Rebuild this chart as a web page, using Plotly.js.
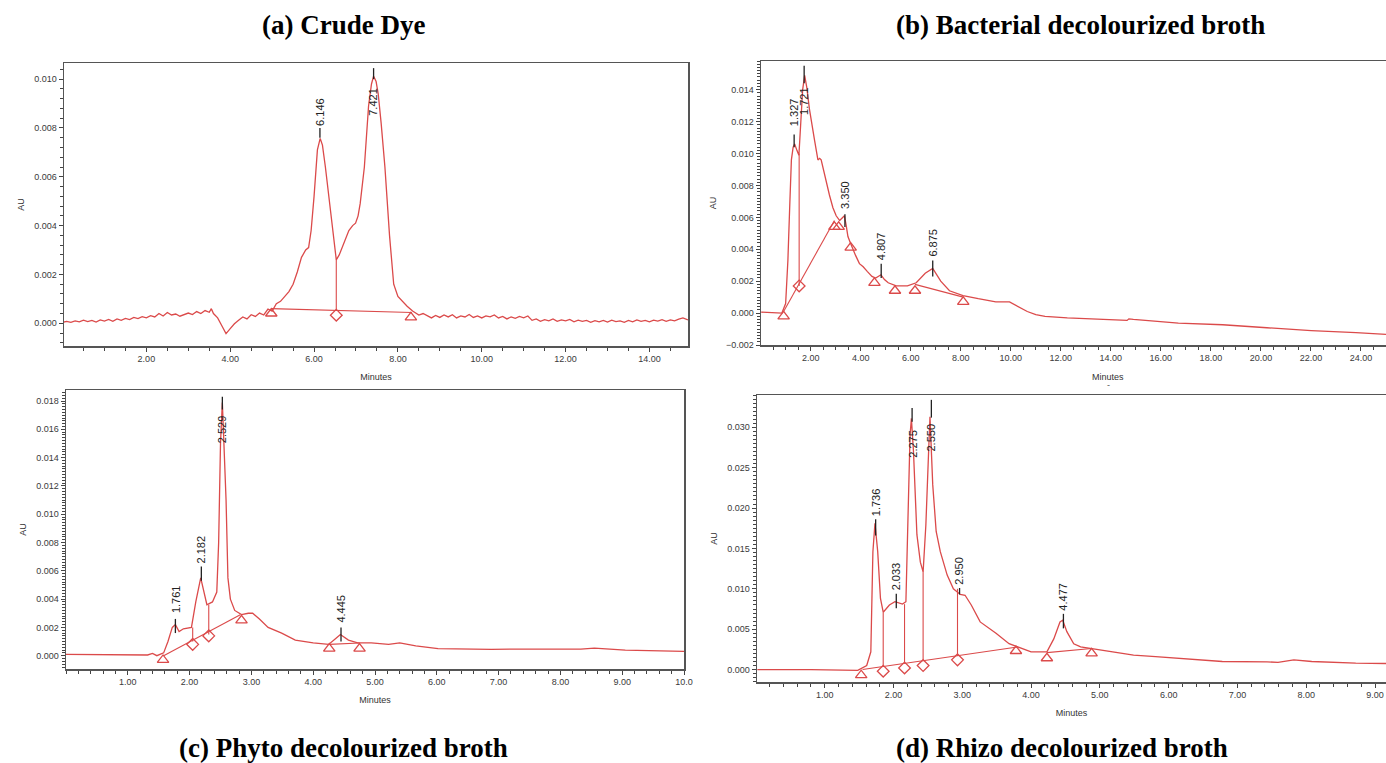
<!DOCTYPE html>
<html>
<head>
<meta charset="utf-8">
<script src="https://cdn.plot.ly/plotly-3.0.1.min.js"></script>
<style>html,body{margin:0;padding:0;background:#fff;}#chart{width:1386px;height:763px;}</style>
</head>
<body>
<div id="chart"></div>
<script>
// ---------- Panel (a) Crude Dye ----------
const A_t = [0.03,0.1,0.2,0.3,0.4,0.5,0.6,0.7,0.8,0.9,1.0,1.1,1.2,1.3,1.4,1.5,1.6,1.7,1.8,1.9,2.0,2.1,2.2,2.3,2.4,2.5,2.6,2.7,2.8,2.9,3.0,3.1,3.2,3.3,3.4,3.5,3.55,3.6,3.7,3.8,3.9,4.0,4.1,4.2,4.3,4.4,4.5,4.6,4.7,4.8,4.9,5.0,5.1,5.2,5.3,5.4,5.5,5.6,5.7,5.8,5.87,5.93,6.0,6.08,6.146,6.2,6.27,6.35,6.46,6.53,6.6,6.67,6.75,6.83,6.92,6.99,7.05,7.1,7.2,7.3,7.37,7.42,7.48,7.53,7.6,7.69,7.8,7.9,8.0,8.1,8.22,8.35,8.44,8.5,8.6,8.7,8.8,8.9,9.0,9.1,9.2,9.3,9.4,9.5,9.6,9.7,9.8,9.9,10.0,10.1,10.2,10.3,10.4,10.5,10.6,10.7,10.8,10.9,11.0,11.1,11.2,11.3,11.4,11.5,11.6,11.7,11.8,11.9,12.0,12.1,12.2,12.3,12.4,12.5,12.6,12.7,12.8,12.9,13.0,13.1,13.2,13.3,13.4,13.5,13.6,13.7,13.8,13.9,14.0,14.1,14.2,14.3,14.4,14.5,14.6,14.7,14.8,14.92];
const A_au = [0.00005,0.00008,0.00004,0.00010,0.00006,0.00013,0.00007,0.00012,0.00005,0.00014,0.00009,0.00016,0.00008,0.00018,0.00012,0.00020,0.00015,0.00024,0.00019,0.00027,0.00022,0.00031,0.00026,0.00040,0.00030,0.00044,0.00034,0.00038,0.00029,0.00035,0.00042,0.00036,0.00048,0.00040,0.00052,0.00045,0.00060,0.00040,0.00022,-0.00010,-0.00042,-0.00022,-0.00002,0.00012,0.00026,0.00018,0.00035,0.00028,0.00042,0.00034,0.00058,0.00050,0.00080,0.00090,0.00110,0.00130,0.00160,0.00210,0.00270,0.00300,0.00310,0.00380,0.00520,0.00710,0.00757,0.00730,0.00640,0.00520,0.00340,0.00260,0.00280,0.00310,0.00350,0.00380,0.00400,0.00410,0.00440,0.00490,0.00640,0.00890,0.00980,0.01012,0.00990,0.00940,0.00820,0.00640,0.00360,0.00160,0.00110,0.00090,0.00070,0.00050,0.00042,0.00034,0.00040,0.00030,0.00022,0.00032,0.00024,0.00034,0.00026,0.00035,0.00022,0.00030,0.00026,0.00036,0.00024,0.00030,0.00022,0.00030,0.00026,0.00034,0.00022,0.00028,0.00018,0.00026,0.00020,0.00028,0.00022,0.00030,0.00012,0.00018,0.00008,0.00015,0.00010,0.00018,0.00008,0.00014,0.00010,0.00016,0.00006,0.00013,0.00008,0.00012,0.00004,0.00011,0.00006,0.00012,0.00005,0.00013,0.00007,0.00010,0.00004,0.00012,0.00006,0.00014,0.00008,0.00012,0.00006,0.00013,0.00009,0.00015,0.00008,0.00014,0.00010,0.00017,0.00022,0.00014];
const A_peakLabel = ["6.146","7.421"];
const A_peakT = [6.14, 7.42];
const A_tickLo = [0.0076, 0.0100];
const A_tickHi = [0.0080, 0.01045];
const A_labelAU = [0.0080, 0.0084];
const A_triT = [4.98, 8.31];
const A_triAU = [0.00040, 0.00024];
const A_diaT = [6.53];
const A_diaAU = [0.00033];
const A_baseT = [[4.98, 8.33]];
const A_baseAU = [[0.00060, 0.00044]];
const A_dropT = [6.53];
const A_dropLo = [0.00052];
const A_dropHi = [0.0026];

// ---------- Panel (b) Bacterial decolourized broth ----------
const B_t = [0.02,0.4,0.7,0.85,1.0,1.09,1.17,1.23,1.3,1.36,1.45,1.53,1.6,1.68,1.76,1.85,1.95,2.05,2.16,2.29,2.36,2.42,2.52,2.62,2.75,2.89,3.02,3.16,3.29,3.35,3.42,3.49,3.59,3.69,3.8,3.95,4.1,4.27,4.45,4.6,4.81,4.95,5.1,5.42,5.87,6.22,6.58,6.88,7.05,7.2,7.55,8.09,8.7,9.4,9.95,10.2,10.45,10.66,11.0,11.37,12.26,13.5,14.65,14.72,14.9,16.7,18.47,20.24,22.01,23.8,25.0];
const B_au = [0.00006,0.00005,0.00002,0.0,0.0006,0.0033,0.0070,0.0096,0.0104,0.0106,0.0102,0.0099,0.0118,0.0140,0.0149,0.0141,0.0128,0.0117,0.0108,0.0096,0.0097,0.0096,0.0089,0.0083,0.0074,0.0066,0.0061,0.0058,0.0060,0.0061,0.0055,0.0048,0.0044,0.0040,0.0036,0.0031,0.0029,0.0026,0.0023,0.0022,0.0024,0.0021,0.0019,0.0017,0.0017,0.0019,0.0025,0.0028,0.0024,0.0020,0.0014,0.0011,0.0009,0.0007,0.0007,0.0005,0.0003,0.0001,-0.0001,-0.0002,-0.0003,-0.0004,-0.00046,-0.00036,-0.0004,-0.00063,-0.00073,-0.00092,-0.0011,-0.00123,-0.00134];
const B_peakLabel = ["1.327","1.721","3.350","4.807","6.875"];
const B_peakT = [1.34, 1.74, 3.37, 4.82, 6.88];
const B_tickLo = [0.0104, 0.0144, 0.0054, 0.0022, 0.0023];
const B_tickHi = [0.0112, 0.0155, 0.0062, 0.0031, 0.0033];
const B_labelAU = [0.0116, 0.0123, 0.0064, 0.0032, 0.0034];
const B_triT = [0.92, 2.95, 3.12, 3.6, 4.55, 5.37, 6.17, 8.1];
const B_triAU = [-0.0002, 0.0054, 0.0054, 0.0041, 0.0019, 0.0014, 0.0014, 0.0007];
const B_diaT = [1.54];
const B_diaAU = [0.0017];
const B_baseT = [[0.92, 2.95], [6.17, 8.1]];
const B_baseAU = [[0.0001, 0.0058], [0.0018, 0.0010]];
const B_dropT = [1.54];
const B_dropLo = [0.0017];
const B_dropHi = [0.0100];

// ---------- Panel (c) Phyto decolourized broth ----------
const C_t = [0.0,0.5,1.0,1.32,1.4,1.47,1.58,1.65,1.72,1.77,1.83,1.9,2.03,2.1,2.18,2.23,2.28,2.37,2.44,2.47,2.5,2.53,2.56,2.59,2.62,2.66,2.73,2.84,2.95,3.02,3.13,3.27,3.49,3.71,4.0,4.25,4.36,4.44,4.57,4.72,4.94,5.22,5.4,5.66,6.02,6.88,7.6,8.33,8.55,9.05,10.0];
const C_au = [0.0001,0.0001,0.00008,0.00005,0.00016,0.0,0.0002,0.0010,0.0020,0.0022,0.0017,0.0019,0.0020,0.0038,0.0055,0.0045,0.0036,0.0038,0.0045,0.0080,0.0150,0.0179,0.0150,0.0110,0.0055,0.0040,0.0032,0.0029,0.0030,0.0030,0.0026,0.0020,0.0016,0.0011,0.0009,0.0008,0.0012,0.0015,0.0011,0.0009,0.0009,0.0008,0.0009,0.0007,0.0005,0.00045,0.00047,0.00047,0.00054,0.0004,0.0003];
const C_peakLabel = ["1.761","2.182","2.529","4.445"];
const C_peakT = [1.77, 2.19, 2.53, 4.45];
const C_tickLo = [0.0016, 0.0053, 0.0174, 0.0010];
const C_tickHi = [0.0026, 0.0063, 0.0183, 0.0020];
const C_labelAU = [0.0029, 0.0064, 0.0149, 0.0022];
const C_triT = [1.57, 2.84, 4.26, 4.75];
const C_triAU = [-0.0003, 0.0025, 0.0005, 0.0005];
const C_diaT = [2.05, 2.31];
const C_diaAU = [0.0008, 0.0014];
const C_baseT = [[1.58, 2.82], [4.26, 4.75]];
const C_baseAU = [[0.0, 0.0029], [0.0008, 0.0009]];
const C_dropT = [2.05, 2.31];
const C_dropLo = [0.0010, 0.0015];
const C_dropHi = [0.0020, 0.0036];
const C_tickVals = [1,2,3,4,5,6,7,8,9,10];
const C_tickText = ["1.00","2.00","3.00","4.00","5.00","6.00","7.00","8.00","9.00","10.0"];

// ---------- Panel (d) Rhizo decolourized broth ----------
const D_t = [0.02,0.8,1.48,1.61,1.67,1.70,1.73,1.77,1.81,1.85,1.94,2.02,2.13,2.18,2.21,2.24,2.26,2.29,2.34,2.39,2.43,2.47,2.51,2.53,2.57,2.62,2.68,2.78,2.87,2.97,3.04,3.13,3.26,3.49,3.68,3.81,4.0,4.23,4.33,4.42,4.46,4.52,4.62,4.72,4.88,5.17,5.49,5.81,6.14,6.46,6.78,7.43,7.59,7.82,8.08,8.72,9.16];
const D_au = [0.0,0.0,-0.0001,0.0005,0.0022,0.0146,0.0181,0.0146,0.0088,0.0071,0.0080,0.0084,0.0081,0.0084,0.0187,0.0290,0.0311,0.0270,0.0167,0.0133,0.0121,0.0179,0.0270,0.0313,0.0229,0.0171,0.0146,0.0117,0.0100,0.0093,0.0092,0.0080,0.0059,0.0045,0.0032,0.0028,0.0022,0.0022,0.0038,0.0059,0.0061,0.0047,0.0032,0.0028,0.0026,0.0022,0.0018,0.0016,0.0014,0.0012,0.0010,0.00095,0.0009,0.0012,0.0010,0.0008,0.00075];
const D_peakLabel = ["1.736","2.033","2.275","2.550","2.950","4.477"];
const D_peakT = [1.74, 2.04, 2.27, 2.55, 2.96, 4.47];
const D_tickLo = [0.0166, 0.0076, 0.0307, 0.0312, 0.0093, 0.0051];
const D_tickHi = [0.0186, 0.0094, 0.0324, 0.0334, 0.0101, 0.0069];
const D_labelAU = [0.0187, 0.0096, 0.0260, 0.0268, 0.0102, 0.0071];
const D_triT = [1.53, 3.78, 4.23, 4.88];
const D_triAU = [-0.0007, 0.0023, 0.0014, 0.0020];
const D_diaT = [1.85, 2.16, 2.43, 2.93];
const D_diaAU = [-0.0002, 0.0002, 0.0005, 0.0012];
const D_baseT = [[1.55, 3.80], [4.23, 4.88]];
const D_baseAU = [[0.0, 0.0028], [0.0021, 0.0026]];
const D_dropT = [1.85, 2.16, 2.43, 2.93];
const D_dropLo = [0.0004, 0.0008, 0.0011, 0.0017];
const D_dropHi = [0.0071, 0.0081, 0.0121, 0.0100];

const panelTitles = ["(a) Crude Dye", "(b) Bacterial decolourized broth", "(c) Phyto decolourized broth", "(d) Rhizo decolourized broth"];

// ---------- build ----------
const RED = '#db4a4a';
const traces = [];
const annotations = [];

function segs(xs, lo, hi) {
  const X = [], Y = [];
  xs.forEach((x, i) => { X.push(x, x, null); Y.push(lo[i], hi[i], null); });
  return {X, Y};
}
function lines(ts, aus) {
  const X = [], Y = [];
  ts.forEach((t, i) => { X.push(...t, null); Y.push(...aus[i], null); });
  return {X, Y};
}

function addPanel(n, d) {
  const xa = n === 1 ? 'x' : 'x' + n;
  const ya = n === 1 ? 'y' : 'y' + n;
  traces.push({x: d.t, y: d.au, xaxis: xa, yaxis: ya, mode: 'lines', line: {color: RED, width: 1.3}, hoverinfo: 'skip'});
  const b = lines(d.baseT, d.baseAU);
  traces.push({x: b.X, y: b.Y, xaxis: xa, yaxis: ya, mode: 'lines', line: {color: RED, width: 1.1}, hoverinfo: 'skip'});
  const dr = segs(d.dropT, d.dropLo, d.dropHi);
  traces.push({x: dr.X, y: dr.Y, xaxis: xa, yaxis: ya, mode: 'lines', line: {color: RED, width: 1.1}, hoverinfo: 'skip'});
  const tk = segs(d.peakT, d.tickLo, d.tickHi);
  traces.push({x: tk.X, y: tk.Y, xaxis: xa, yaxis: ya, mode: 'lines', line: {color: '#222', width: 1.3}, hoverinfo: 'skip'});
  traces.push({x: d.triT, y: d.triAU, xaxis: xa, yaxis: ya, mode: 'markers', marker: {symbol: 'triangle-up-open', size: 10, color: RED, line: {width: 1.3, color: RED}}, hoverinfo: 'skip'});
  traces.push({x: d.diaT, y: d.diaAU, xaxis: xa, yaxis: ya, mode: 'markers', marker: {symbol: 'diamond-open', size: 9, color: RED, line: {width: 1.3, color: RED}}, hoverinfo: 'skip'});
  d.peakLabel.forEach((lab, i) => {
    annotations.push({xref: xa, yref: ya, x: d.peakT[i], y: d.labelAU[i], text: lab, textangle: -90,
      showarrow: false, xanchor: 'center', yanchor: 'bottom',
      font: {family: 'Liberation Sans, Arial, sans-serif', size: 11, color: '#222'}});
  });
}

addPanel(1, {t: A_t, au: A_au, peakLabel: A_peakLabel, peakT: A_peakT, tickLo: A_tickLo, tickHi: A_tickHi, labelAU: A_labelAU, triT: A_triT, triAU: A_triAU, diaT: A_diaT, diaAU: A_diaAU, baseT: A_baseT, baseAU: A_baseAU, dropT: A_dropT, dropLo: A_dropLo, dropHi: A_dropHi});
addPanel(2, {t: B_t, au: B_au, peakLabel: B_peakLabel, peakT: B_peakT, tickLo: B_tickLo, tickHi: B_tickHi, labelAU: B_labelAU, triT: B_triT, triAU: B_triAU, diaT: B_diaT, diaAU: B_diaAU, baseT: B_baseT, baseAU: B_baseAU, dropT: B_dropT, dropLo: B_dropLo, dropHi: B_dropHi});
addPanel(3, {t: C_t, au: C_au, peakLabel: C_peakLabel, peakT: C_peakT, tickLo: C_tickLo, tickHi: C_tickHi, labelAU: C_labelAU, triT: C_triT, triAU: C_triAU, diaT: C_diaT, diaAU: C_diaAU, baseT: C_baseT, baseAU: C_baseAU, dropT: C_dropT, dropLo: C_dropLo, dropHi: C_dropHi});
addPanel(4, {t: D_t, au: D_au, peakLabel: D_peakLabel, peakT: D_peakT, tickLo: D_tickLo, tickHi: D_tickHi, labelAU: D_labelAU, triT: D_triT, triAU: D_triAU, diaT: D_diaT, diaAU: D_diaAU, baseT: D_baseT, baseAU: D_baseAU, dropT: D_dropT, dropLo: D_dropLo, dropHi: D_dropHi});

const W = 1386, H = 763;
const smallFont = {family: 'Liberation Sans, Arial, sans-serif', size: 9, color: '#333'};
const tickFont = {family: 'Liberation Sans, Arial, sans-serif', size: 9, color: '#3a3a3a'};
function xAxis(px0, px1, range, anchor, dtick, minorDtick, fmt, extra) {
  return Object.assign({
    domain: [px0 / W, px1 / W], range: range, anchor: anchor,
    showgrid: false, zeroline: false, showline: true, mirror: true, linecolor: '#555', linewidth: 1.5,
    ticks: 'outside', ticklen: 4, tickwidth: 1, tickcolor: '#444', tick0: 0, dtick: dtick, tickformat: fmt,
    minor: {dtick: minorDtick, ticks: 'outside', ticklen: 3, tickcolor: '#444', tickwidth: 1, showgrid: false},
    tickfont: tickFont,
    title: {text: 'Minutes', font: smallFont, standoff: 10}
  }, extra || {});
}
function yAxis(py0, py1, range, anchor, dtick, minorDtick) {
  return {
    domain: [1 - py1 / H, 1 - py0 / H], range: range, anchor: anchor,
    showgrid: false, zeroline: false, showline: true, mirror: true, linecolor: '#555', linewidth: 1.5,
    ticks: 'outside', ticklen: 4, tickwidth: 1, tickcolor: '#444', tick0: 0, dtick: dtick, tickformat: '.3f',
    minor: {dtick: minorDtick, ticks: 'outside', ticklen: 3, tickcolor: '#444', tickwidth: 1, showgrid: false},
    tickfont: tickFont,
    title: {text: 'AU', font: smallFont, standoff: 8}
  };
}

const titleFont = {family: 'Liberation Serif, Times New Roman, serif', size: 27, color: '#000', weight: 'bold'};
const titlePos = [[343, 25], [1080, 25], [343, 748], [1062, 748]];
panelTitles.forEach((t, i) => {
  annotations.push({xref: 'paper', yref: 'paper', x: titlePos[i][0] / W, y: 1 - titlePos[i][1] / H,
    text: '<b>' + t + '</b>', showarrow: false, xanchor: 'center', yanchor: 'middle', font: titleFont});
});
// panel (b) axis continues beyond the cropped picture, so its title sits right of the visible centre
annotations.push({xref: 'paper', yref: 'paper', x: 1108 / W, y: 1 - 377 / H, text: 'Minutes', showarrow: false,
  xanchor: 'center', yanchor: 'middle', font: smallFont});
annotations.push({xref: 'paper', yref: 'paper', x: 1108 / W, y: 1 - 385 / H, text: '-', showarrow: false,
  xanchor: 'center', yanchor: 'middle', font: {family: 'Liberation Sans, Arial, sans-serif', size: 9, color: '#555'}});

const layout = {
  width: W, height: H, margin: {l: 0, r: 0, t: 0, b: 0},
  paper_bgcolor: '#fff', plot_bgcolor: '#fff', showlegend: false,
  xaxis: xAxis(64, 688, [0.035, 14.92], 'y', 2, 0.5, '.2f'),
  yaxis: yAxis(63, 346, [-0.00093, 0.01066], 'x', 0.002, 0.0004),
  xaxis2: xAxis(761, 1386, [0.015, 25.0], 'y2', 2, 0.5, '.2f', {title: {text: ''}}),
  yaxis2: yAxis(61, 345, [-0.002, 0.0158], 'x2', 0.002, 0.0002),
  xaxis3: xAxis(66, 684, [0.0, 10.0], 'y3', 1, 0.2, '.2f', {tickmode: 'array', tickvals: C_tickVals, ticktext: C_tickText}),
  yaxis3: yAxis(390, 669, [-0.00094, 0.01878], 'x3', 0.002, 0.0002),
  xaxis4: xAxis(757, 1386, [0.015, 9.16], 'y4', 1, 0.2, '.2f'),
  yaxis4: yAxis(395, 682, [-0.00154, 0.034], 'x4', 0.005, 0.0005),
  annotations: annotations
};

Plotly.newPlot('chart', traces, layout, {staticPlot: true, displayModeBar: false});
</script>
</body>
</html>
